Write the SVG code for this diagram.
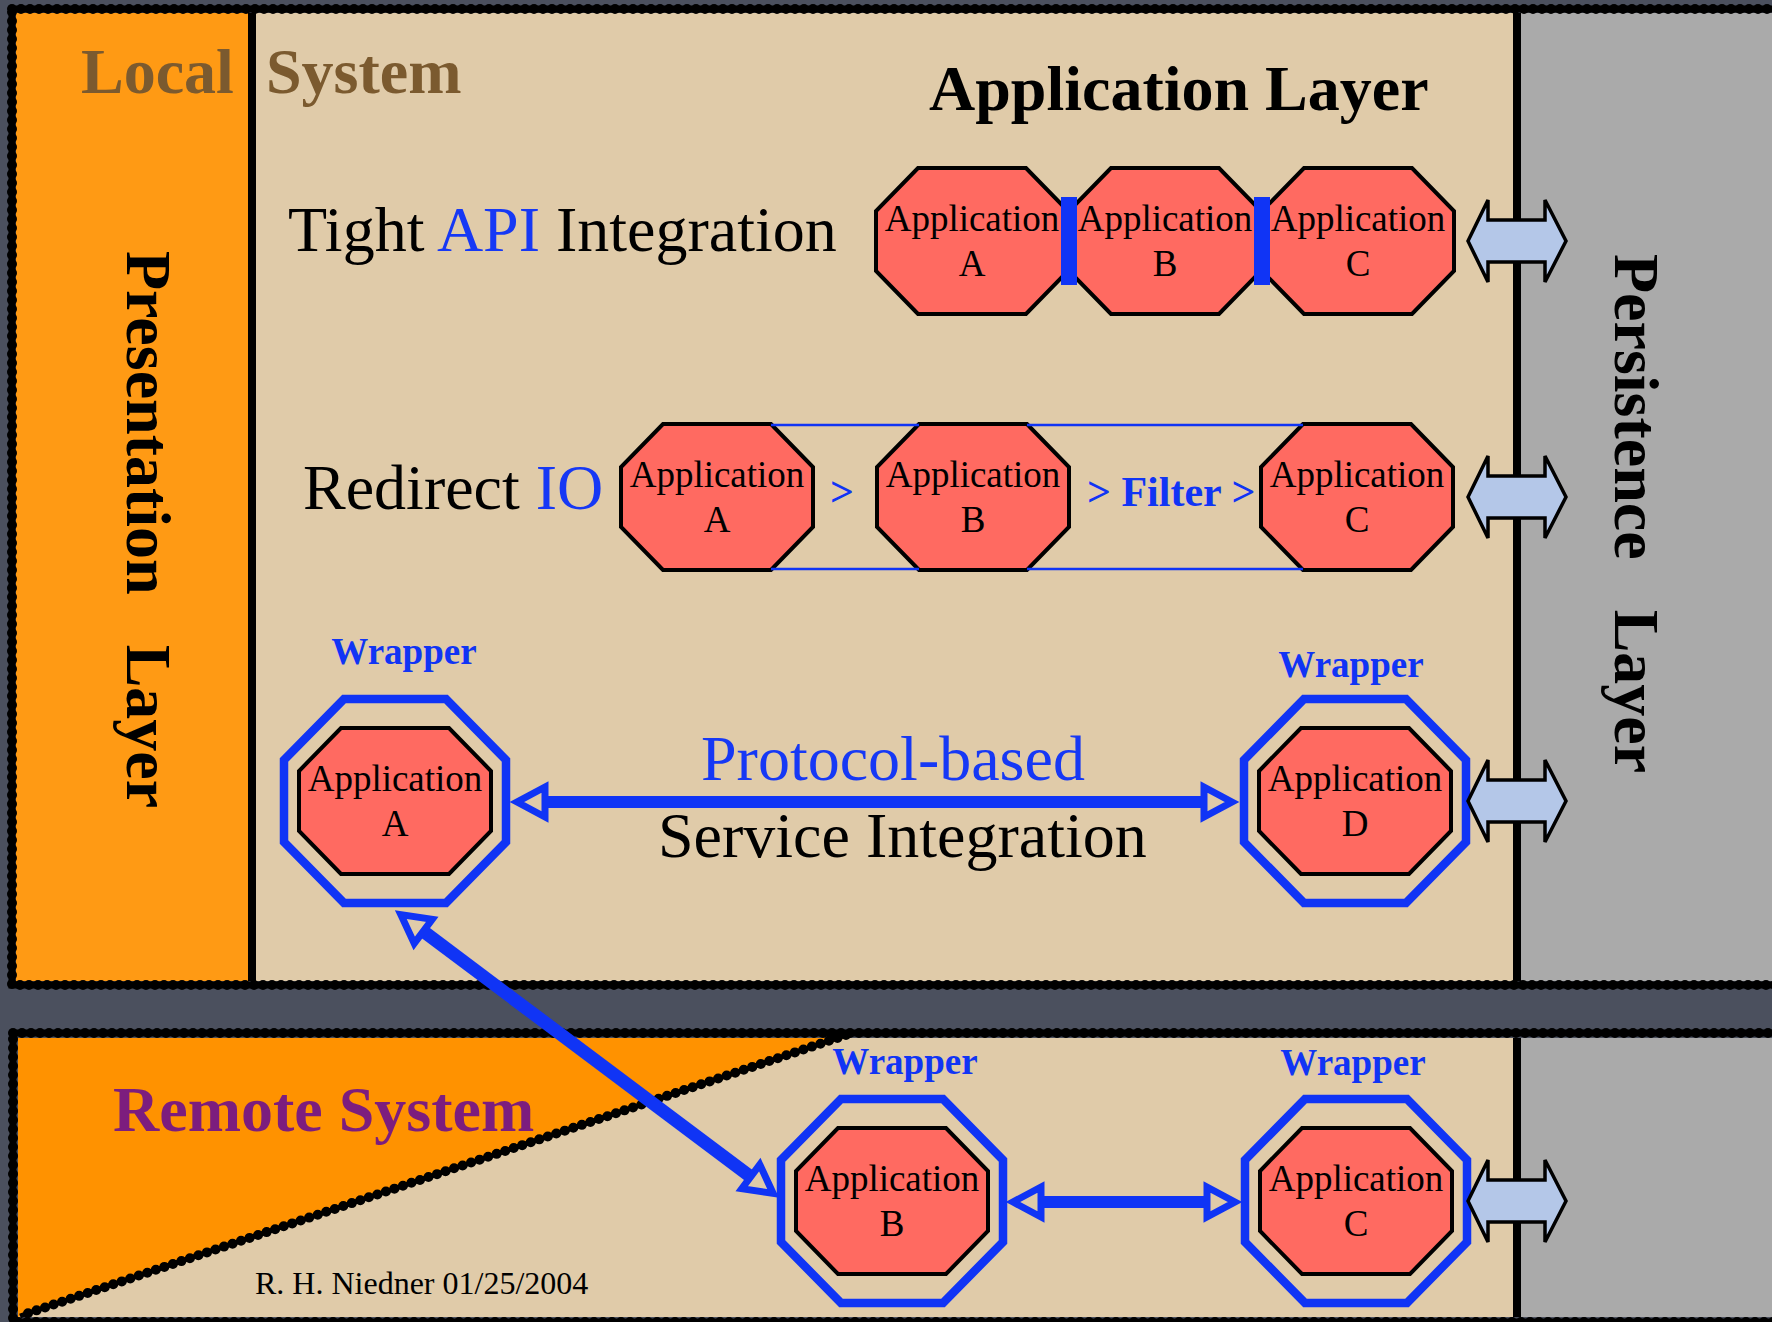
<svg xmlns="http://www.w3.org/2000/svg" width="1772" height="1322" viewBox="0 0 1772 1322">
  <style>
    .title{font-family:"Liberation Serif","Times New Roman",serif;font-size:64px;font-weight:bold}
    .big{font-family:"Liberation Serif","Times New Roman",serif;font-size:64px}
    .app{font-family:"Liberation Serif","Times New Roman",serif;font-size:37px;text-anchor:middle;fill:#000}
    .wlabel{font-family:"Liberation Serif","Times New Roman",serif;font-size:37px;font-weight:bold;fill:#1034f5;text-anchor:middle}
    .pipe{font-family:"Liberation Serif","Times New Roman",serif;font-size:42px;font-weight:bold;fill:#1034f5}
    .credit{font-family:"Liberation Serif","Times New Roman",serif;font-size:32px;fill:#000}
    .oct{fill:#ff6a61;stroke:#000;stroke-width:4}
    .wrap{fill:none;stroke:#1034f5;stroke-width:8.5}
    .frame{fill:none;stroke:#000;stroke-width:7}
    .beads{fill:none;stroke:#000;stroke-width:10;stroke-linecap:round;stroke-dasharray:0 9}
    .divider{stroke:#000;stroke-width:8}
    .link{stroke:#1034f5;fill:none}
    .head{fill:#e0cba9;stroke:#1034f5;stroke-width:7}
    .store{fill:#b4c7e8;stroke:#000;stroke-width:3.5}
    .beige{fill:#e0cba9}
    .grey{fill:#aaaaaa}
  </style>
  <defs>
    <!-- application octagon, centred on the origin -->
    <polygon id="oct" class="oct" points="-54,-73 54,-73 96,-30 96,30 54,73 -54,73 -96,30 -96,-30"/>
    <!-- wrapper octagon around an application -->
    <polygon id="wrap" class="wrap" points="-51,-102 51,-102 111,-41 111,41 51,102 -51,102 -111,41 -111,-41"/>
    <!-- hollow arrowhead, tip at the origin, pointing +x -->
    <polygon id="head" class="head" points="-6,0 -34,-15 -34,15"/>
    <!-- double arrow to the persistence layer -->
    <polygon id="store" class="store" points="-49,0 -29,-41 -29,-21 28,-21 28,-41 49,0 28,41 28,21 -29,21 -29,41"/>
  </defs>

  <!-- slate background -->
  <rect width="1772" height="1322" fill="#4b505e"/>

  <!-- local system frame -->
  <g id="local-system">
    <rect x="16" y="13" width="232" height="968" fill="#ff9a14"/>
    <rect x="256" y="13" width="1257" height="968" class="beige"/>
    <rect x="1521" y="13" width="251" height="968" class="grey"/>
    <line x1="252" y1="13" x2="252" y2="981" class="divider"/>
    <line x1="1517" y1="13" x2="1517" y2="981" class="divider"/>
    <rect x="12" y="9" width="1766" height="976" class="frame"/>
    <rect x="12" y="9" width="1766" height="976" class="beads"/>
  </g>

  <!-- remote system frame -->
  <g id="remote-system">
    <rect x="18" y="1038" width="1495" height="279" class="beige"/>
    <rect x="1521" y="1038" width="251" height="279" class="grey"/>
    <polygon points="18,1038 846,1038 18,1317" fill="#ff9200"/>
    <line x1="846" y1="1035" x2="20" y2="1316" stroke="#000" stroke-width="5"/>
    <line x1="846" y1="1035" x2="20" y2="1316" class="beads"/>
    <line x1="1517" y1="1038" x2="1517" y2="1317" class="divider"/>
    <rect x="13" y="1033" width="1766" height="289" class="frame" stroke-width="9"/>
    <rect x="13" y="1033" width="1766" height="289" class="beads"/>
  </g>

  <!-- headings -->
  <g id="labels">
    <text class="title" x="81" y="93" fill="#7b5a2f">Local</text>
    <text class="title" x="266" y="93" fill="#7b5a2f">System</text>
    <text class="title" x="929" y="110">Application Layer</text>
    <text class="title" transform="translate(127,251) rotate(90)">Presentation<tspan dx="50">Layer</tspan></text>
    <text class="title" transform="translate(1615,254) rotate(90)">Persistence<tspan dx="50">Layer</tspan></text>
    <text class="big" x="288" y="251">Tight <tspan fill="#1638f5">API</tspan> Integration</text>
    <text class="big" x="303" y="509">Redirect <tspan fill="#1638f5">IO</tspan></text>
    <text class="big" x="701" y="780" fill="#1638f5">Protocol-based</text>
    <text class="big" x="658" y="857">Service Integration</text>
    <text class="title" x="113" y="1131" fill="#7c1d7e">Remote System</text>
    <text class="credit" x="255" y="1294">R. H. Niedner 01/25/2004</text>
  </g>

  <!-- tight API integration row -->
  <g id="api-app-a">
    <use href="#oct" transform="translate(972,241)"/>
    <text class="app" x="972" y="231">Application</text>
    <text class="app" x="972" y="276">A</text>
  </g>
  <g id="api-app-b">
    <use href="#oct" transform="translate(1165,241)"/>
    <text class="app" x="1165" y="231">Application</text>
    <text class="app" x="1165" y="276">B</text>
  </g>
  <g id="api-app-c">
    <use href="#oct" transform="translate(1358,241)"/>
    <text class="app" x="1358" y="231">Application</text>
    <text class="app" x="1358" y="276">C</text>
  </g>

  <!-- redirect IO row -->
  <g id="io-app-a">
    <use href="#oct" transform="translate(717,497)"/>
    <text class="app" x="717" y="487">Application</text>
    <text class="app" x="717" y="532">A</text>
  </g>
  <g id="io-app-b">
    <use href="#oct" transform="translate(973,497)"/>
    <text class="app" x="973" y="487">Application</text>
    <text class="app" x="973" y="532">B</text>
  </g>
  <g id="io-app-c">
    <use href="#oct" transform="translate(1357,497)"/>
    <text class="app" x="1357" y="487">Application</text>
    <text class="app" x="1357" y="532">C</text>
  </g>

  <!-- wrapped services -->
  <g id="svc-app-a">
    <text class="wlabel" x="404" y="664">Wrapper</text>
    <use href="#wrap" transform="translate(395,801)"/>
    <use href="#oct" transform="translate(395,801)"/>
    <text class="app" x="395" y="791">Application</text>
    <text class="app" x="395" y="836">A</text>
  </g>
  <g id="svc-app-d">
    <text class="wlabel" x="1351" y="677">Wrapper</text>
    <use href="#wrap" transform="translate(1355,801)"/>
    <use href="#oct" transform="translate(1355,801)"/>
    <text class="app" x="1355" y="791">Application</text>
    <text class="app" x="1355" y="836">D</text>
  </g>
  <g id="remote-app-b">
    <text class="wlabel" x="905" y="1074">Wrapper</text>
    <use href="#wrap" transform="translate(892,1201)"/>
    <use href="#oct" transform="translate(892,1201)"/>
    <text class="app" x="892" y="1191">Application</text>
    <text class="app" x="892" y="1236">B</text>
  </g>
  <g id="remote-app-c">
    <text class="wlabel" x="1353" y="1075">Wrapper</text>
    <use href="#wrap" transform="translate(1356,1201)"/>
    <use href="#oct" transform="translate(1356,1201)"/>
    <text class="app" x="1356" y="1191">Application</text>
    <text class="app" x="1356" y="1236">C</text>
  </g>

  <!-- connectors -->
  <g id="connectors">
    <!-- API couplings -->
    <rect x="1061" y="197" width="16" height="88" fill="#1034f5"/>
    <rect x="1254" y="197" width="16" height="88" fill="#1034f5"/>
    <!-- IO pipeline -->
    <g class="link" stroke-width="2.5">
      <line x1="771" y1="425" x2="919" y2="425"/>
      <line x1="1027" y1="425" x2="1303" y2="425"/>
      <line x1="771" y1="569" x2="919" y2="569"/>
      <line x1="1027" y1="569" x2="1303" y2="569"/>
    </g>
    <text class="pipe" x="830" y="506">&gt;</text>
    <text class="pipe" x="1087" y="506">&gt; Filter &gt;</text>
    <!-- protocol-based service links -->
    <line class="link" x1="545" y1="802" x2="1204" y2="802" stroke-width="12"/>
    <use href="#head" transform="translate(511,802) rotate(180)"/>
    <use href="#head" transform="translate(1238,802)"/>
    <line class="link" x1="423" y1="931" x2="751" y2="1177" stroke-width="13"/>
    <use href="#head" transform="translate(396,911) rotate(216.83)"/>
    <use href="#head" transform="translate(778,1197) rotate(36.83)"/>
    <line class="link" x1="1041" y1="1202" x2="1207" y2="1202" stroke-width="12"/>
    <use href="#head" transform="translate(1007,1202) rotate(180)"/>
    <use href="#head" transform="translate(1241,1202)"/>
    <!-- persistence access -->
    <use href="#store" transform="translate(1517,241)"/>
    <use href="#store" transform="translate(1517,497)"/>
    <use href="#store" transform="translate(1517,801)"/>
    <use href="#store" transform="translate(1517,1201)"/>
  </g>
</svg>
